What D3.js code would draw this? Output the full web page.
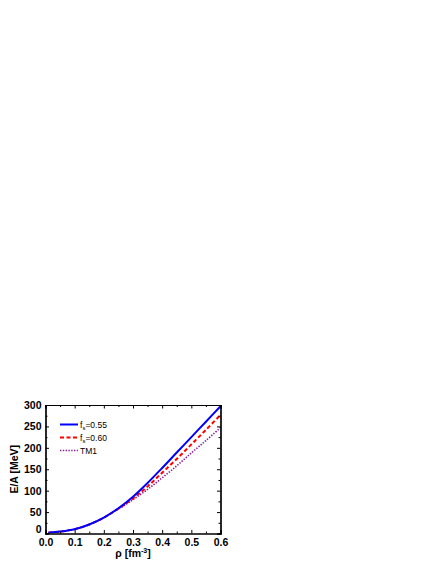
<!DOCTYPE html>
<html>
<head>
<meta charset="utf-8">
<script src="https://cdn.jsdelivr.net/npm/d3@7"></script>
<style>
  html, body { margin: 0; padding: 0; background: #fff; }
  svg { display: block; font-family: "Liberation Sans", Arial, sans-serif; }
</style>
</head>
<body>
<div id="chart"></div>
<script>
// --- data ---
const rho = [0.01, 0.05, 0.10, 0.15, 0.20, 0.25, 0.30, 0.35, 0.40, 0.45, 0.50, 0.55, 0.60];
const eFs055 = [2, 4.5, 10, 21, 37, 59, 86, 118, 153, 189, 225, 261, 297];
const eFs060 = [2, 4.5, 10, 21, 37, 58, 82, 110, 142, 174, 208, 242, 277];
const eTM1   = [2, 4.5, 10, 21, 37, 57, 79, 103, 130, 158, 188, 217, 247];
const xTicks = [0.0, 0.1, 0.2, 0.3, 0.4, 0.5, 0.6];
const yTicks = [0, 50, 100, 150, 200, 250, 300];

const series = [
  { name: "0.55", sub: true, values: eFs055, color: "#0000ff", width: 2, dash: null },
  { name: "0.60", sub: true, values: eFs060, color: "#ff0000", width: 2, dash: "4 2.5" },
  { name: "TM1", sub: false, values: eTM1, color: "#8e1b9a", width: 1.6, dash: "1.4 1.4" }
];

const W = 436, H = 564;
const plot = { left: 45.5, right: 220.5, top: 405, bottom: 533.5 };

const svg = d3.select("#chart").append("svg").attr("width", W).attr("height", H);

const x = d3.scaleLinear().domain([0, 0.6]).range([plot.left, plot.right]);
const y = d3.scaleLinear().domain([0, 300]).range([plot.bottom, plot.top]);

// curves (clipped to frame)
svg.append("defs").append("clipPath").attr("id", "clip")
  .append("rect")
  .attr("x", plot.left).attr("y", plot.top)
  .attr("width", plot.right - plot.left).attr("height", plot.bottom - plot.top);

const line = d3.line()
  .x((d, i) => x(rho[i]))
  .y(d => y(d))
  .curve(d3.curveCatmullRom);

const curvesG = svg.append("g").attr("clip-path", "url(#clip)");
series.slice().reverse().forEach(s => {
  curvesG.append("path")
    .attr("d", line(s.values))
    .attr("fill", "none")
    .attr("stroke", s.color)
    .attr("stroke-width", s.width)
    .attr("stroke-dasharray", s.dash);
});

// axes with inward ticks on all four sides
const major = 3.5, minor = 2;
const xMinor = d3.range(0.05, 0.6, 0.1);
const yMinor = d3.range(25, 300, 50);

svg.append("g").attr("transform", `translate(0,${plot.bottom})`)
  .call(d3.axisBottom(x).tickValues(xTicks).tickSize(-major).tickPadding(5).tickFormat(d3.format(".1f")));
svg.append("g").attr("transform", `translate(0,${plot.bottom})`)
  .call(d3.axisBottom(x).tickValues(xMinor).tickSize(-minor).tickFormat(""));
svg.append("g").attr("transform", `translate(0,${plot.top})`)
  .call(d3.axisTop(x).tickValues(xTicks).tickSize(-major).tickFormat(""));
svg.append("g").attr("transform", `translate(0,${plot.top})`)
  .call(d3.axisTop(x).tickValues(xMinor).tickSize(-minor).tickFormat(""));

const yAxisG = svg.append("g").attr("transform", `translate(${plot.left},0)`)
  .call(d3.axisLeft(y).tickValues(yTicks).tickSize(-major).tickPadding(4).tickFormat(d3.format("d")));
// lift the "0" label a little so it sits just above the "0.0" label
yAxisG.selectAll(".tick text").filter(d => d === 0).attr("dy", "-0.05em");
svg.append("g").attr("transform", `translate(${plot.left},0)`)
  .call(d3.axisLeft(y).tickValues(yMinor).tickSize(-minor).tickFormat(""));
svg.append("g").attr("transform", `translate(${plot.right},0)`)
  .call(d3.axisRight(y).tickValues(yTicks).tickSize(-major).tickFormat(""));
svg.append("g").attr("transform", `translate(${plot.right},0)`)
  .call(d3.axisRight(y).tickValues(yMinor).tickSize(-minor).tickFormat(""));

svg.selectAll(".domain").attr("stroke", "#000").attr("stroke-width", 1.2);
svg.selectAll(".tick line").attr("stroke", "#000").attr("stroke-width", 1);
svg.selectAll(".tick text")
  .attr("font-family", "Liberation Sans, Arial, sans-serif")
  .attr("font-size", 10.5).attr("font-weight", "bold").attr("fill", "#000");

// axis titles
svg.append("text")
  .attr("transform", `translate(14,${(plot.top + plot.bottom) / 2}) rotate(-90)`)
  .attr("text-anchor", "middle").attr("dominant-baseline", "central")
  .attr("font-size", 10.5).attr("font-weight", "bold")
  .text("E/A [MeV]");

const xt = svg.append("text")
  .attr("x", (plot.left + plot.right) / 2).attr("y", 557)
  .attr("text-anchor", "middle")
  .attr("font-size", 10.5).attr("font-weight", "bold");
xt.append("tspan").text("ρ [fm");
xt.append("tspan").attr("dy", -4).attr("font-size", 7).text("-3");
xt.append("tspan").attr("dy", 4).text("]");

// legend
const legY = [424.5, 437.5, 450.5];
series.forEach((s, i) => {
  const g = svg.append("g");
  g.append("line")
    .attr("x1", 60).attr("x2", 78).attr("y1", legY[i]).attr("y2", legY[i])
    .attr("stroke", s.color).attr("stroke-width", s.width)
    .attr("stroke-dasharray", s.dash);
  const t = g.append("text")
    .attr("x", 80).attr("y", legY[i] + 3)
    .attr("font-size", 8.5);
  if (s.sub) {
    t.append("tspan").text("f");
    t.append("tspan").attr("dy", 2.5).attr("font-size", 6).text("s");
    t.append("tspan").attr("dy", -2.5).text("=" + s.name);
  } else {
    t.text(s.name);
  }
});
</script>
</body>
</html>
